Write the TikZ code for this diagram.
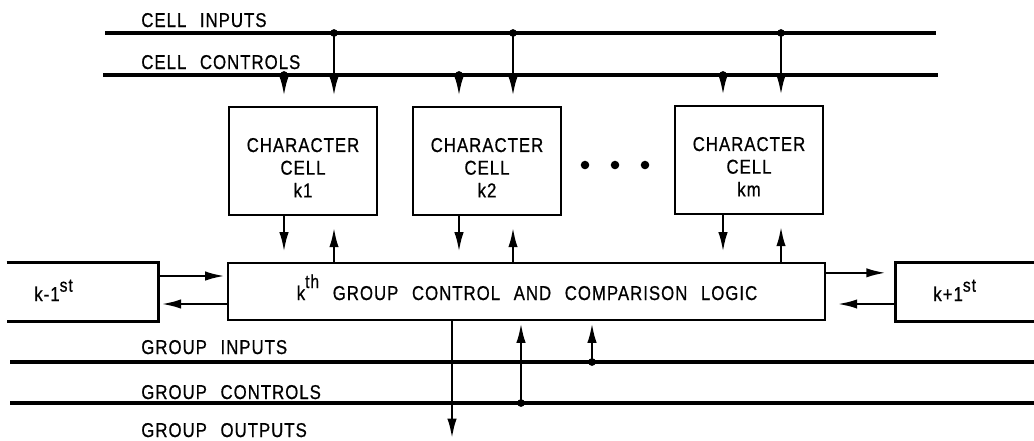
\documentclass[tikz,border=0pt]{standalone}
\usepackage{fontspec}
\setmainfont{Liberation Sans}[WordSpace=2.4,LetterSpace=5,FakeStretch=0.84,FakeBold=0.7]
\usetikzlibrary{arrows.meta}
\newcommand{\supr}[2]{\raisebox{#1}{\fontsize{14}{14}\selectfont #2}}
\begin{document}
\begin{tikzpicture}[x=0.75pt,y=-0.75pt,
  line width=2pt,
  bus/.style={line width=2.3pt},
  arr/.style={-{Latex[length=15pt,width=7pt]}, line width=2pt},
  cellbox/.style={draw, line width=2.2pt, minimum width=111pt, minimum height=81pt, inner sep=0pt},
  celltxt/.style={inner sep=0pt, align=center, font=\fontsize{15}{17}\selectfont},
  lbl/.style={anchor=base west, inner sep=0pt, font=\fontsize{15}{15}\selectfont},
  dot/.style={circle, fill, inner sep=0pt, minimum size=5.8pt},
  ghost/.style={inner sep=0pt, minimum height=42pt}]
\useasboundingbox (0,0) rectangle (1034,440);

% cell buses
\coordinate (ciL) at (105,33);  \coordinate (ciR) at (936,33);
\coordinate (ccL) at (103,75);  \coordinate (ccR) at (938,75);
\draw[bus] (ciL) -- (ciR);
\draw[bus] (ccL) -- (ccR);
\node[lbl] (tci) at (140,27) {CELL INPUTS};
\node[lbl] (tcc) at (140,69) {CELL CONTROLS};

% junctions
\coordinate (i1) at (334,33); \coordinate (c1) at (284,75);
\coordinate (i2) at (513,33); \coordinate (c2) at (459,75);
\coordinate (i3) at (781,33); \coordinate (c3) at (723,75);
\foreach \j in {i1,c1,i2,c2,i3,c3} \node[dot] at (\j) {};

% cells
\node[cellbox] (cell1) at (303,161) {};
\node[cellbox] (cell2) at (487,161) {};
\node[cellbox] (cell3) at (749,160) {};
\node[celltxt] (ct1) at ([yshift=-5pt]cell1.center) {CHARACTER\\CELL\\k1};
\node[celltxt] (ct2) at ([yshift=-5pt]cell2.center) {CHARACTER\\CELL\\k2};
\node[celltxt] (ct3) at ([yshift=-5pt]cell3.center) {CHARACTER\\CELL\\km};
\foreach \x in {585,615,645} \fill (\x,165) circle (3.2pt);

% logic
\node[draw, line width=2.2pt, minimum width=447.75pt, minimum height=42.75pt, inner sep=0pt]
  (logic) at (526.5,291.5) {};
\node[anchor=base, inner sep=0pt, font=\fontsize{15}{15}\selectfont] (tlog) at (527,300)
  {k\supr{9pt}{th} GROUP CONTROL AND COMPARISON LOGIC};

% top arrows
\foreach \n in {1,2,3}{
  \draw[arr, shorten >=7pt] (c\n) -- (c\n |- cell\n.north);
  \draw[arr, shorten >=7pt] (i\n) -- (i\n |- cell\n.north);
  \draw[arr, shorten >=7pt] (c\n |- cell\n.south) -- (c\n |- logic.north);
  \draw[arr, shorten >=8pt] (i\n |- logic.north) -- (i\n |- cell\n.south);
}

% neighbours
\node[ghost, minimum width=111.75pt] (prev) at (82.5,292) {};
\draw[line width=2.3pt] (prev.north west) -- (prev.north east) -- (prev.south east) -- (prev.south west);
\node[anchor=base west, inner sep=0pt, font=\fontsize{15}{15}\selectfont] (tprev) at (33,301) {k-1\supr{7pt}{st}};
\node[ghost, minimum width=102.75pt] (next) at (965.5,292) {};
\draw[line width=2.3pt] (next.north east) -- (next.north west) -- (next.south west) -- (next.south east);
\node[anchor=base west, inner sep=0pt, font=\fontsize{15}{15}\selectfont] (tnext) at (932,301) {k+1\supr{7pt}{st}};

\draw[arr, shorten >=1pt] ([yshift=12pt]prev.east) -- ([yshift=12pt]prev.east -| logic.west);
\draw[arr, shorten >=2pt] ([yshift=-9pt]prev.east -| logic.west) -- ([yshift=-9pt]prev.east);
\draw[arr, shorten >=7pt] ([yshift=14pt]logic.east) -- ([yshift=14pt]logic.east -| next.west);
\draw[arr, shorten >=8pt] ([yshift=-9pt]next.west) -- ([yshift=-9pt]next.west -| logic.east);

% group buses
\coordinate (giL) at (10,362);  \coordinate (giR) at (1034,362);
\coordinate (gcL) at (10,403);  \coordinate (gcR) at (1034,403);
\draw[bus] (giL) -- (giR);
\draw[bus] (gcL) -- (gcR);
\node[lbl] (tgi) at (140,354) {GROUP INPUTS};
\node[lbl] (tgc) at (140,399) {GROUP CONTROLS};
\node[lbl] (tgo) at (140,437) {GROUP OUTPUTS};

\coordinate (gj1) at (592,362);
\coordinate (gj2) at (521,403);
\coordinate (gout) at (452,440);
\node[dot] at (gj1) {};
\node[dot] at (gj2) {};
\draw[arr, shorten >=1pt] (gj1) -- (gj1 |- logic.south);
\draw[arr, shorten >=1pt] (gj2) -- (gj2 |- logic.south);
\draw[arr, shorten >=1pt] (gout |- logic.south) -- (gout);
\end{tikzpicture}
\end{document}
